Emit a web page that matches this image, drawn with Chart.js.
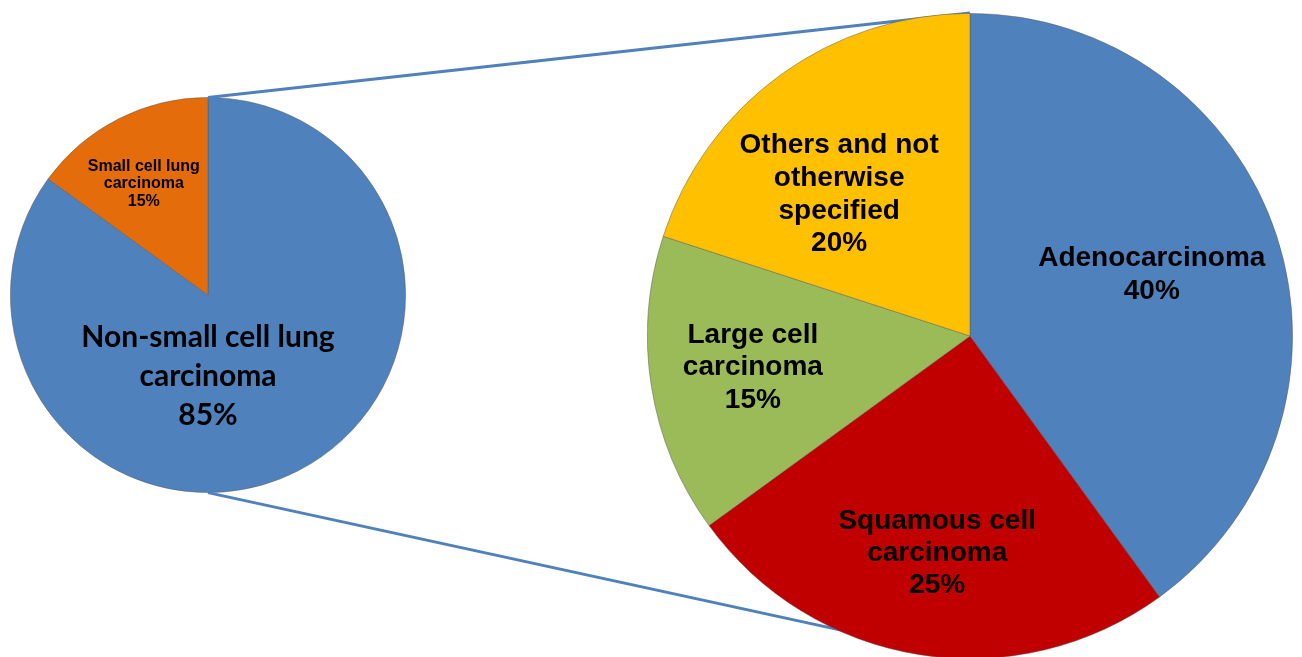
<!DOCTYPE html>
<html>
<head>
<meta charset="utf-8">
<script src="https://cdn.jsdelivr.net/npm/chart.js@4"></script>
<style>
  html, body { margin: 0; padding: 0; background: #fff; overflow: hidden; }
  body { width: 1302px; height: 657px; position: relative; }
  #lines { position: absolute; left: 0; top: 0; z-index: 2; }
  .pie { position: absolute; }
  #lungBox { left: 10px; top: 97px; width: 396px; height: 396px; z-index: 1; }
  #nsclcBox { left: 647px; top: 12.5px; width: 646px; height: 646px; z-index: 3; }
</style>
</head>
<body>
<canvas id="lines" width="1302" height="657"></canvas>
<div class="pie" id="lungBox"><canvas id="lungChart"></canvas></div>
<div class="pie" id="nsclcBox"><canvas id="nsclcChart"></canvas></div>
<script>
// lung cancer types, share of all cases (%)
const lungCategories = [['Non-small cell lung', 'carcinoma'], ['Small cell lung', 'carcinoma']];
const lungShares = [85, 15];
const lungColors = ['#4F81BD', '#E46C0A'];

// non-small cell subtypes (%)
const nsclcCategories = [['Adenocarcinoma'], ['Squamous cell', 'carcinoma'], ['Large cell', 'carcinoma'], ['Others and not', 'otherwise', 'specified']];
const nsclcShares = [40, 25, 15, 20];
const nsclcColors = ['#4F81BD', '#C00000', '#9BBB59', '#FFC000'];

// text inside each slice: name lines, then the percentage
const sliceLabels = {
    id: 'sliceLabels',
    afterDatasetsDraw(chart, args, opts) {
        const ctx = chart.ctx;
        const values = chart.data.datasets[0].data;
        chart.getDatasetMeta(0).data.forEach((arc, i) => {
            const p = opts.place[i];
            const a = p.angle * Math.PI / 180;
            const x = arc.x + Math.sin(a) * p.r * arc.outerRadius;
            const y = arc.y - Math.cos(a) * p.r * arc.outerRadius;
            const lines = [].concat(chart.data.labels[i], values[i] + '%');
            ctx.save();
            ctx.fillStyle = '#000';
            ctx.font = p.font;
            ctx.textAlign = 'center';
            ctx.textBaseline = 'middle';
            lines.forEach((t, k) => {
                ctx.fillText(t, x, y + (k - (lines.length - 1) / 2) * p.lineHeight);
            });
            ctx.restore();
        });
    }
};

function pieOptions(place) {
    return {
        responsive: true,
        maintainAspectRatio: false,
        animation: false,
        layout: { padding: 0 },
        plugins: {
            legend: { display: false },
            tooltip: { enabled: false },
            sliceLabels: { place: place }
        }
    };
}

const lungChart = new Chart(document.getElementById('lungChart'), {
    type: 'pie',
    data: {
        labels: lungCategories,
        datasets: [{
            data: lungShares,
            backgroundColor: lungColors,
            borderColor: 'rgba(90,90,90,0.6)',
            borderWidth: 0.8
        }]
    },
    options: pieOptions([
        { angle: 180, r: 0.41, font: 'bold 30px Lato', lineHeight: 39 },
        { angle: 330, r: 0.65, font: 'bold 16px "Liberation Sans"', lineHeight: 17.5 }
    ]),
    plugins: [sliceLabels]
});

const nsclcChart = new Chart(document.getElementById('nsclcChart'), {
    type: 'pie',
    data: {
        labels: nsclcCategories,
        datasets: [{
            data: nsclcShares,
            backgroundColor: nsclcColors,
            borderColor: 'rgba(90,90,90,0.6)',
            borderWidth: 0.8
        }]
    },
    options: pieOptions([
        { angle: 71.3, r: 0.595, font: 'bold 28px "Liberation Sans"', lineHeight: 33 },
        { angle: 188.6, r: 0.68, font: 'bold 28px "Liberation Sans"', lineHeight: 32 },
        { angle: 261.8, r: 0.68, font: 'bold 28px "Liberation Sans"', lineHeight: 32.5 },
        { angle: 317.2, r: 0.597, font: 'bold 28px "Liberation Sans"', lineHeight: 32.7 }
    ]),
    plugins: [sliceLabels]
});

// connector lines from the top and bottom of the small pie to the large one
function pieEdges(chart) {
    const arc = chart.getDatasetMeta(0).data[0];
    const box = chart.canvas.getBoundingClientRect();
    return {
        top: [box.left + arc.x, box.top + arc.y - arc.outerRadius],
        bottom: [box.left + arc.x, box.top + arc.y + arc.outerRadius]
    };
}

const from = pieEdges(lungChart);
const to = pieEdges(nsclcChart);
const lctx = document.getElementById('lines').getContext('2d');
lctx.strokeStyle = '#4F81BD';
lctx.lineWidth = 3;
[['top', 'top'], ['bottom', 'bottom']].forEach(([a, b]) => {
    lctx.beginPath();
    lctx.moveTo(from[a][0], from[a][1]);
    lctx.lineTo(to[b][0], to[b][1]);
    lctx.stroke();
});
</script>
</body>
</html>
